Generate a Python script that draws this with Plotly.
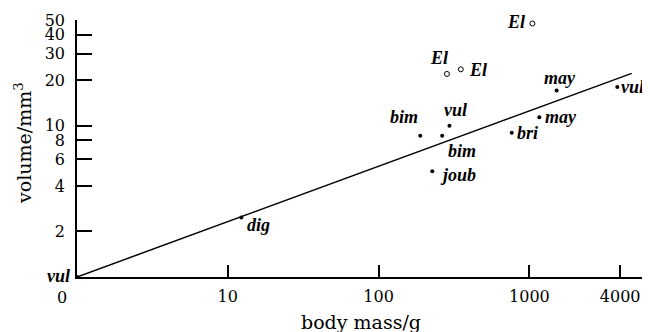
import math
import plotly.graph_objects as go

# data
mass_filled = [1, 12.3, 227, 189, 264, 295, 764, 1164, 1517, 3828]
vol_filled = [1, 2.47, 5.0, 8.6, 8.6, 10.0, 9.0, 11.4, 17.1, 18.0]
lab_filled = ["vul", "dig", "joub", "bim", "bim", "vul", "bri", "may", "may", "vul"]

mass_open = [1047, 284, 351]
vol_open = [47.4, 22.0, 23.6]
lab_open = ["El", "El", "El"]

line_mass = [1, 4770]
line_vol = [1, 22.2]

x_ticks = [1, 10, 100, 1000, 4000]
x_ticktext = ["0", "10", "100", "1000", "4000"]
y_ticks = [2, 4, 6, 8, 10, 20, 30, 40, 50]

# label placement (anchor, x shift px, y shift px) for each point label
place_filled = [("right", -5, 1), ("left", 4, -7), ("left", 6, -4), ("right", 0, 19),
                ("left", 4, -15), ("center", 6, 16), ("left", 3, 0), ("left", 4, 0),
                ("center", 3, 12), ("left", 2, 0)]
place_open = [("right", -5, 2), ("right", 3, 16), ("left", 6, -1)]

tick_font = dict(family="DejaVu Serif", size=16, color="black")
title_font = dict(family="DejaVu Serif", size=19, color="black")
lab_font = dict(family="Liberation Serif", size=18, color="black", style="italic", weight="bold")

fig = go.Figure()
fig.add_trace(go.Scatter(x=line_mass, y=line_vol, mode="lines",
                         line=dict(color="black", width=1.5), hoverinfo="skip"))
fig.add_trace(go.Scatter(x=mass_filled, y=vol_filled, mode="markers",
                         marker=dict(color="black", size=4), cliponaxis=False))
fig.add_trace(go.Scatter(x=mass_open, y=vol_open, mode="markers",
                         marker=dict(color="white", size=5, line=dict(color="black", width=1)),
                         cliponaxis=False))

annotations = []
for xs, ys, labs, places in ((mass_filled, vol_filled, lab_filled, place_filled),
                             (mass_open, vol_open, lab_open, place_open)):
    for x, y, t, (anc, dx, dy) in zip(xs, ys, labs, places):
        annotations.append(dict(x=math.log10(x), y=math.log10(y), xref="x", yref="y",
                                text=t, showarrow=False, xanchor=anc, yanchor="middle",
                                xshift=dx, yshift=dy, font=lab_font))

# the origin tick label sits left of the axis corner in the original
annotations.append(dict(x=math.log10(x_ticks[0]), y=0, xref="x", yref="paper",
                        text=x_ticktext[0], showarrow=False, xanchor="center", yanchor="middle",
                        xshift=-15, yshift=-20, font=tick_font))
annotations.append(dict(x=0.498, y=-0.175, xref="paper", yref="paper", text="body mass/g",
                        showarrow=False, xanchor="center", yanchor="middle", font=title_font))
annotations.append(dict(x=-0.095, y=0.521, xref="paper", yref="paper", text="volume/mm<sup>3</sup>",
                        showarrow=False, xanchor="center", yanchor="middle", textangle=-90,
                        font=title_font))

fig.update_layout(
    width=642, height=324,
    margin=dict(l=69, r=3, t=12, b=55),
    paper_bgcolor="white", plot_bgcolor="white",
    showlegend=False,
    annotations=annotations,
    xaxis=dict(type="log", range=[0, 3.78], tickvals=x_ticks,
               ticktext=[""] + x_ticktext[1:],
               showline=True, linecolor="black", linewidth=1.5, ticks="inside",
               ticklen=12, tickwidth=1.5, tickcolor="black", showgrid=False, zeroline=False,
               tickfont=tick_font, ticklabelstandoff=4, automargin=False),
    yaxis=dict(type="log", range=[0, 1.699], tickvals=y_ticks,
               showline=True, linecolor="black", linewidth=1.5, ticks="inside",
               ticklen=15, tickwidth=1.5, tickcolor="black", showgrid=False, zeroline=False,
               tickfont=tick_font, ticklabelstandoff=7, automargin=False),
)

fig.write_html("out.html")
